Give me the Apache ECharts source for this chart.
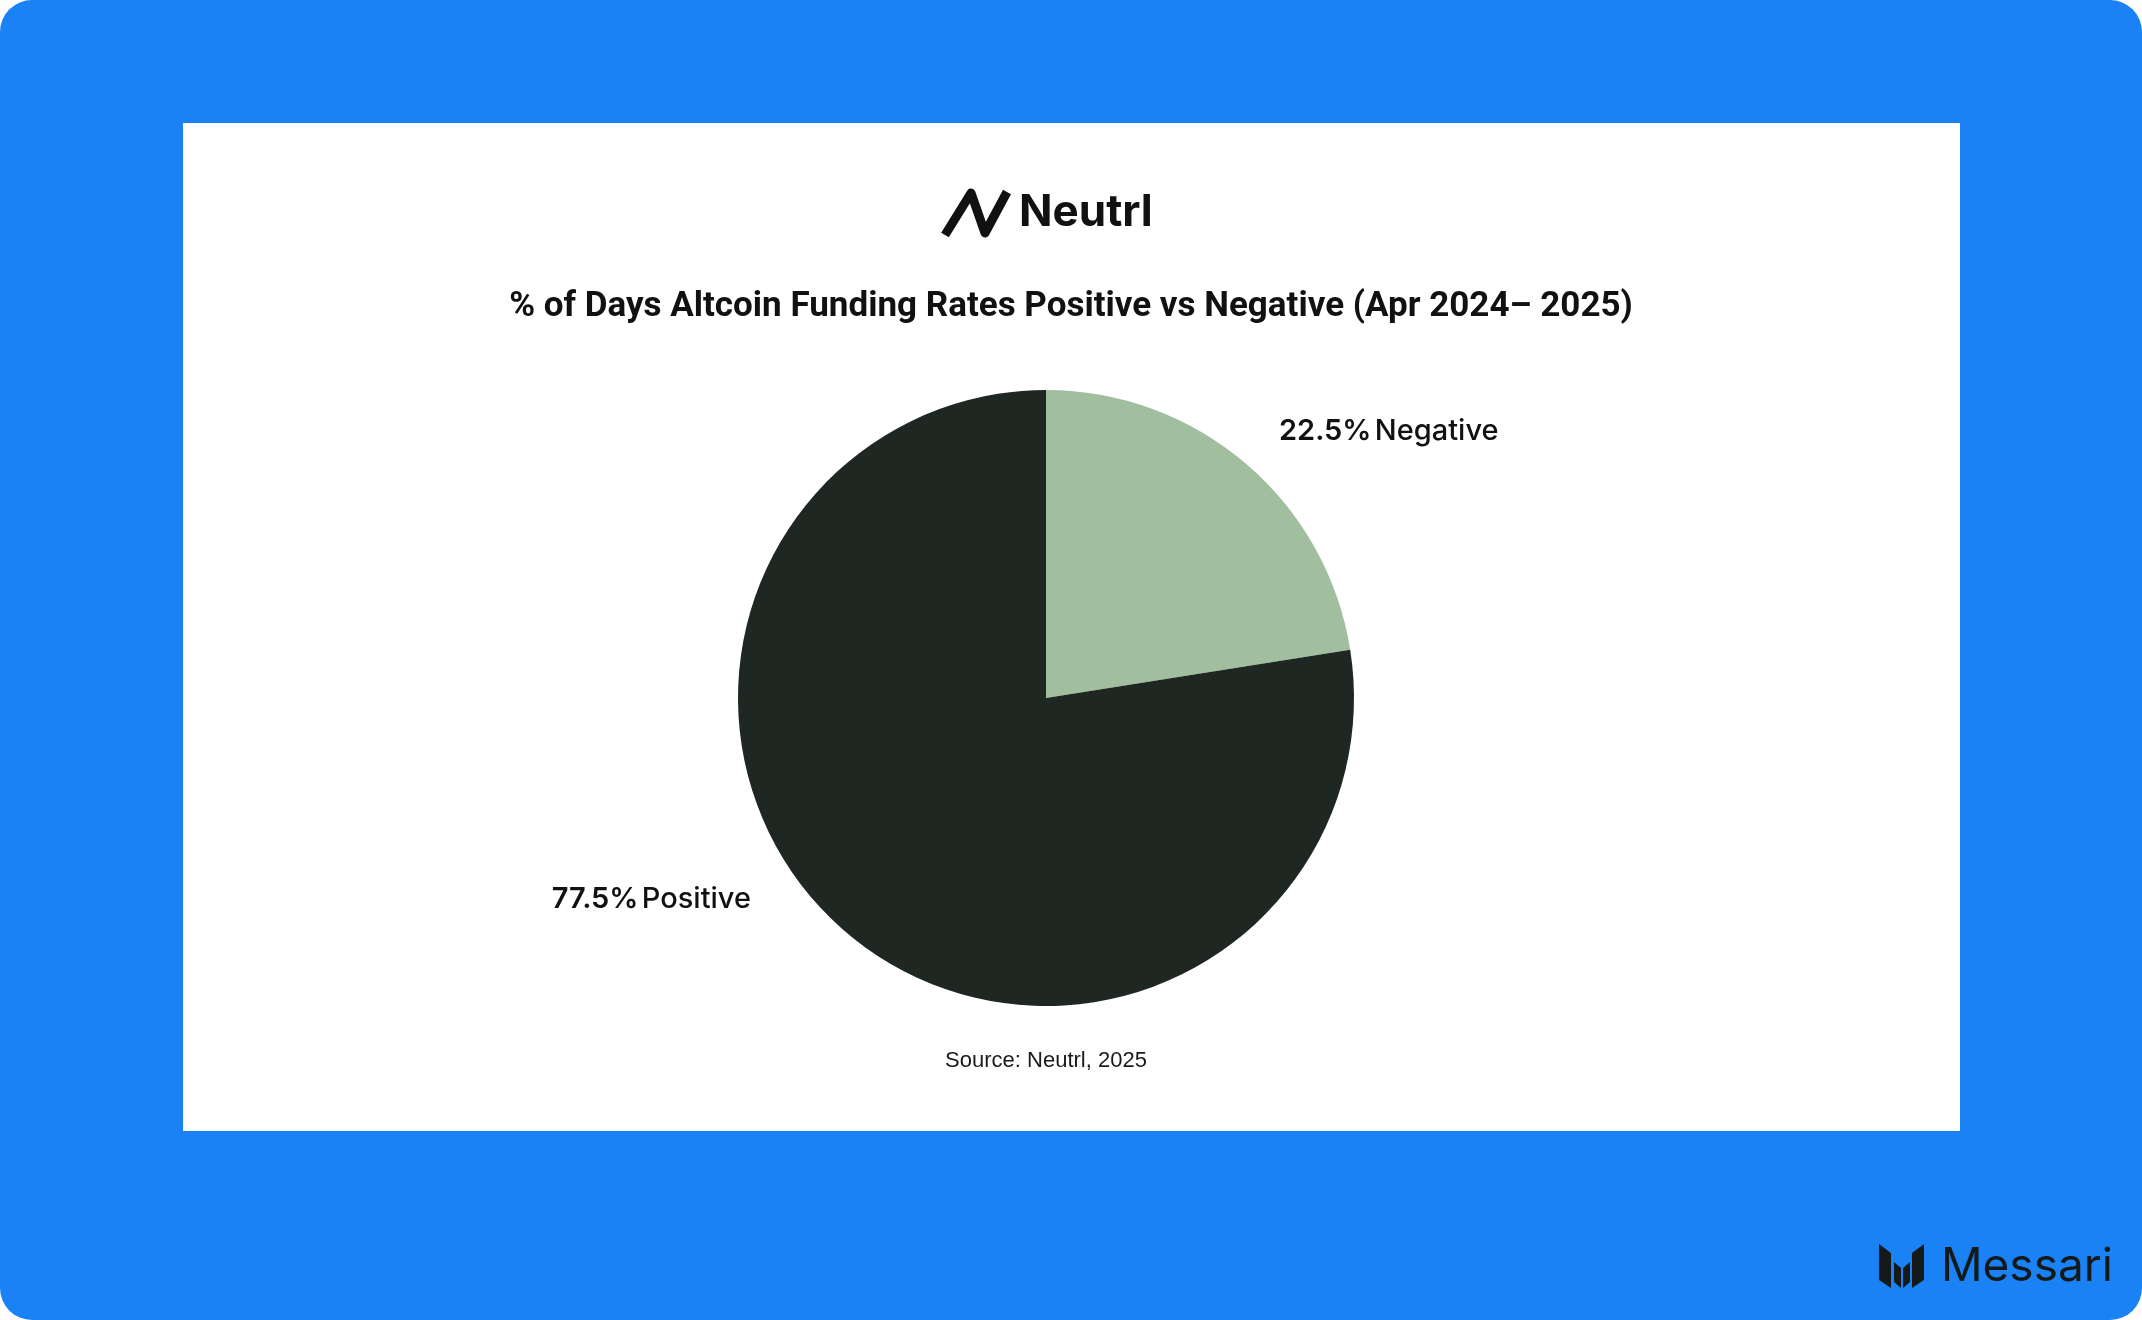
<!DOCTYPE html>
<html>
<head>
<meta charset="utf-8">
<script src="https://cdn.jsdelivr.net/npm/echarts@6/dist/echarts.min.js"></script>
<style>
html,body{margin:0;padding:0;background:#fff;}
#c{width:2142px;height:1320px;}
</style>
</head>
<body>
<div id="c"></div>
<script>
const categories = ['Negative', 'Positive'];
const values = [22.5, 77.5];
const colors = ['#A1BE9F', '#1F2723'];
const titleText = '% of Days Altcoin Funding Rates Positive vs Negative (Apr 2024\u2013 2025)';
const sourceText = 'Source: Neutrl, 2025';

const chart = echarts.init(document.getElementById('c'));
const labelPos = [
  {x: 1279, y: 431, align: 'left'},
  {x: 751, y: 899, align: 'right'}
];
chart.setOption({
  backgroundColor: '#ffffff',
  animation: false,
  title: [{
    text: titleText,
    left: 'center',
    top: 285,
    textStyle: {fontFamily: 'Roboto', fontWeight: 'bold', fontSize: 35, color: '#111111'}
  }],
  graphic: [
    {type: 'rect', z: -20, shape: {x: 0, y: 0, width: 2142, height: 1320, r: 32}, style: {fill: '#1B82F5'}},
    {type: 'rect', z: -19, shape: {x: 183, y: 123, width: 1777, height: 1008}, style: {fill: '#ffffff'}},
    {type: 'text', z: 5, style: {text: sourceText, x: 1046, y: 1061, fontFamily: 'Liberation Sans', fontSize: 22, fill: '#1a1a1a', textAlign: 'center', verticalAlign: 'middle'}},
    // Neutrl logo mark
    {type: 'polyline', z: 5, shape: {points: [[945, 235], [971, 193], [985, 233], [1007, 192]]},
      style: {stroke: '#111111', lineWidth: 9, fill: null, lineJoin: 'round', lineCap: 'butt'}},
    {type: 'text', z: 5, style: {text: 'Neutrl', x: 1019, y: 213, fontFamily: 'Inter', fontWeight: 'bold', fontSize: 44, fill: '#111111', verticalAlign: 'middle', textAlign: 'left'}},
    // Messari logo mark
    {type: 'polygon', z: 5, shape: {points: [[1879,1244],[1891,1253],[1891,1288],[1879,1280]]}, style: {fill: '#141a1a'}},
    {type: 'polygon', z: 5, shape: {points: [[1894,1262],[1901,1268],[1901,1288],[1894,1282]]}, style: {fill: '#141a1a'}},
    {type: 'polygon', z: 5, shape: {points: [[1903,1268],[1910,1262],[1910,1282],[1903,1288]]}, style: {fill: '#141a1a'}},
    {type: 'polygon', z: 5, shape: {points: [[1912,1253],[1924,1244],[1924,1280],[1912,1288]]}, style: {fill: '#141a1a'}},
    {type: 'text', z: 5, style: {text: 'Messari', x: 1941, y: 1267, fontFamily: 'Inter', fontWeight: 'normal', fontSize: 46, fill: '#141a1a', verticalAlign: 'middle', textAlign: 'left'}}
  ],
  series: [{
    type: 'pie',
    center: [1046, 698],
    radius: [0, 308],
    startAngle: 90,
    clockwise: true,
    silent: true,
    itemStyle: {borderWidth: 0},
    color: colors,
    data: categories.map((c, i) => ({name: c, value: values[i]})),
    label: {
      show: true,
      position: 'outside',
      formatter: '{n|{c}%} {t|{b}}',
      rich: {
        n: {fontFamily: 'Inter', fontWeight: 600, fontSize: 29, color: '#111111'},
        t: {fontFamily: 'Inter', fontWeight: 500, fontSize: 29, color: '#111111'}
      }
    },
    labelLine: {show: false},
    labelLayout: function (p) {
      const l = labelPos[p.dataIndex];
      return {x: l.x, y: l.y, align: l.align, verticalAlign: 'middle'};
    }
  }]
});
</script>
</body>
</html>
